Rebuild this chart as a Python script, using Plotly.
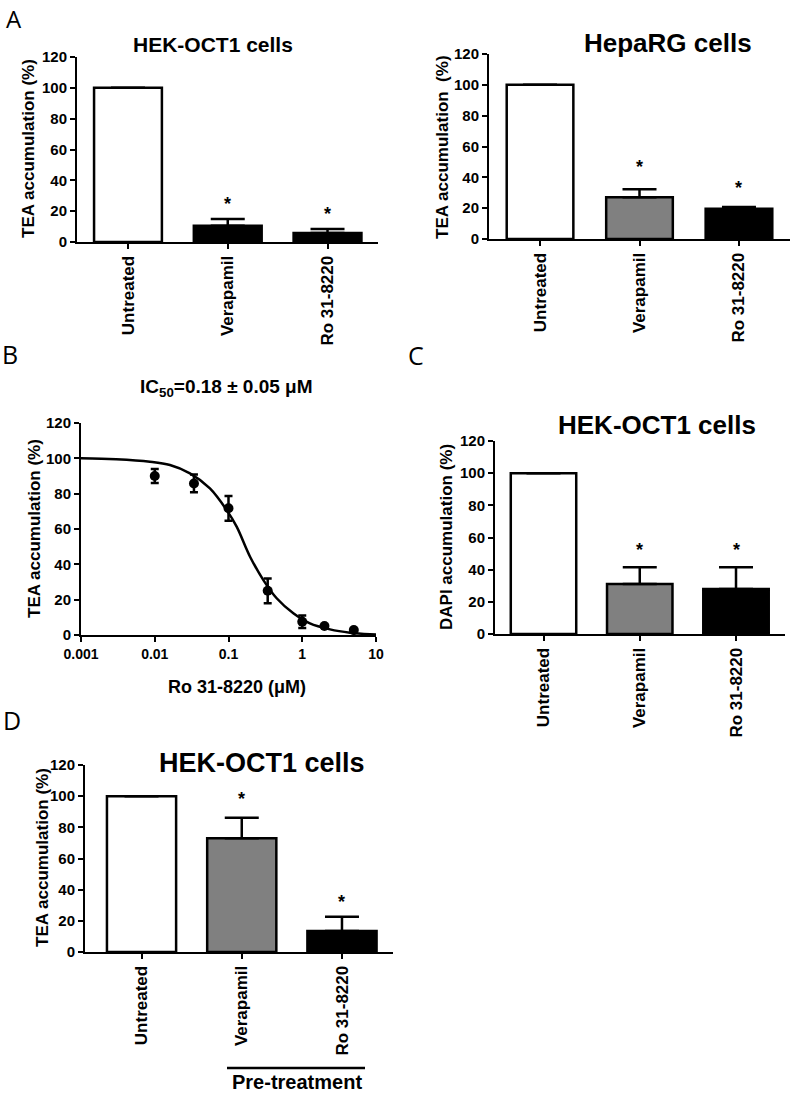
import plotly.graph_objects as go

W, H = 790, 1095

# ---------------- data ----------------
categories = ["Untreated", "Verapamil", "Ro 31-8220"]
y_ticks = [0, 20, 40, 60, 80, 100, 120]

a1_values = [100, 10.6, 5.8]
a1_err = [0, 4.3, 2.6]
a1_colors = ["white", "black", "black"]
a1_stars = [None, 27, 20.8]

a2_values = [100, 27, 19.7]
a2_err = [0, 5.2, 1.1]
a2_colors = ["white", "#808080", "black"]
a2_stars = [None, 49, 36]

b_conc = [0.01, 0.034, 0.1, 0.34, 1, 2, 5]
b_values = [90, 85.8, 71.7, 25, 7.5, 5.1, 2.8]
b_err = [4, 5, 7, 7, 3.6, 0, 0]
b_fit_x = [0.001, 0.003, 0.0086, 0.0161, 0.030, 0.056, 0.0946, 0.129, 0.196,
           0.297, 0.45, 0.757, 1.27, 2.38, 4.44, 8.3, 10]
b_fit_y = [100, 99.5, 98.1, 96.2, 91.5, 83, 70.7, 61.3, 44.3,
           31.1, 20.8, 12.3, 6.6, 3.2, 1.3, 0.4, 0.3]
b_xticks = [0.001, 0.01, 0.1, 1, 10]
b_xticklabels = ["0.001", "0.01", "0.1", "1", "10"]

c_values = [100, 31.1, 28]
c_err = [0, 10.4, 13.5]
c_colors = ["white", "#808080", "black"]
c_stars = [None, 55, 55]

d_values = [100, 73, 13.5]
d_err = [0, 13.2, 9.2]
d_colors = ["white", "#808080", "black"]
d_stars = [None, 100.7, 34.6]

FONT = "Liberation Sans, Arial, sans-serif"


def xd(x0, x1):
    return [x0 / W, x1 / W]


def yd(ybot, ytop):
    return [1 - ybot / H, 1 - ytop / H]


def px(x, y):
    return x / W, 1 - y / H


fig = go.Figure()

# ---------------- bar panels ----------------
bar_panels = [
    ("", a1_values, a1_err, a1_colors, a1_stars, 0.68, xd(77, 378), yd(242, 57), [-0.511, 2.506]),
    ("2", a2_values, a2_err, a2_colors, a2_stars, 0.67, xd(489, 790), yd(239, 54), [-0.513, 2.513]),
    ("4", c_values, c_err, c_colors, c_stars, 0.68, xd(495, 785), yd(634, 441), [-0.504, 2.509]),
    ("5", d_values, d_err, d_colors, d_stars, 0.69, xd(85, 393), yd(952, 765), [-0.564, 2.509]),
]

annotations = []

ytick_font = dict(family=FONT, size=15, color="black", weight="bold")

for suf, vals, errs, cols, stars, bw, xdom, ydom, xr in bar_panels:
    xa = "x" + suf
    ya = "y" + suf
    fig.add_trace(go.Bar(
        x=[0, 1, 2], y=vals, width=bw,
        marker=dict(color=cols, line=dict(color="black", width=2.5)),
        error_y=dict(type="data", symmetric=False, array=errs,
                     arrayminus=[0, 0, 0], color="black", thickness=2.5, width=17),
        xaxis=xa, yaxis=ya, showlegend=False, hoverinfo="skip",
    ))
    fig.layout["xaxis" + suf] = dict(
        domain=xdom, range=xr, anchor=ya,
        tickvals=[0, 1, 2], ticktext=categories, tickangle=-90,
        showline=True, linewidth=2, linecolor="black",
        ticks="outside", ticklen=5, tickwidth=2, tickcolor="black",
        tickfont=dict(family=FONT, size=17, color="black", weight="bold"),
        showgrid=False, zeroline=False, automargin=False,
    )
    fig.layout["yaxis" + suf] = dict(
        domain=ydom, range=[0, 120], anchor=xa,
        tickvals=y_ticks,
        showline=True, linewidth=2, linecolor="black",
        ticks="outside", ticklen=5, tickwidth=2, tickcolor="black",
        tickfont=ytick_font, showgrid=False, zeroline=False, automargin=False,
    )
    for i, s in enumerate(stars):
        if s is None:
            continue
        annotations.append(dict(
            x=i, y=s, xref=xa, yref=ya, text="*", showarrow=False,
            xanchor="center", yanchor="middle", yshift=-4,
            font=dict(family=FONT, size=18, color="black", weight="bold"),
        ))

# ---------------- panel B (dose-response) ----------------
fig.add_trace(go.Scatter(
    x=b_fit_x, y=b_fit_y, mode="lines", line=dict(color="black", width=2.5, shape="spline"),
    xaxis="x3", yaxis="y3", showlegend=False, hoverinfo="skip",
))
fig.add_trace(go.Scatter(
    x=b_conc, y=b_values, mode="markers",
    marker=dict(color="black", size=10),
    error_y=dict(type="data", array=b_err, color="black", thickness=2.5, width=4),
    xaxis="x3", yaxis="y3", showlegend=False, hoverinfo="skip",
))
fig.layout["xaxis3"] = dict(
    domain=xd(81, 376), type="log", range=[-3, 1], anchor="y3",
    tickvals=b_xticks, ticktext=b_xticklabels,
    showline=True, linewidth=2, linecolor="black",
    ticks="outside", ticklen=5, tickwidth=2, tickcolor="black",
    tickfont=dict(family=FONT, size=14, color="black", weight="bold"),
    showgrid=False, zeroline=False, automargin=False,
)
fig.layout["yaxis3"] = dict(
    domain=yd(635, 423), range=[0, 120], anchor="x3", tickvals=y_ticks,
    showline=True, linewidth=2, linecolor="black",
    ticks="outside", ticklen=5, tickwidth=2, tickcolor="black",
    tickfont=ytick_font, showgrid=False, zeroline=False, automargin=False,
)


# ---------------- text ----------------
def text(x, y, s, size, bold=True, angle=0, family=FONT, yanchor="middle"):
    ax, ay = px(x, y)
    annotations.append(dict(
        x=ax, y=ay, xref="paper", yref="paper", text=s, showarrow=False,
        xanchor="center", yanchor=yanchor, textangle=angle,
        font=dict(family=family, size=size, color="black",
                  weight="bold" if bold else "normal"),
    ))


LETTER_FONT = "Open Sans, sans-serif"
text(14, 0, "A", 24, bold=False, family=LETTER_FONT, yanchor="top")
text(10, 354, "B", 25, bold=False, family=LETTER_FONT)
text(416, 355, "C", 25, bold=False, family=LETTER_FONT)
text(12, 720, "D", 25, bold=False, family=LETTER_FONT)

text(213, 45, "HEK-OCT1 cells", 21)
text(668, 43, "HepaRG cells", 26)
text(657, 425, "HEK-OCT1 cells", 26)
text(262, 763, "HEK-OCT1 cells", 27)
text(227, 388, "IC<sub>50</sub>=0.18 ± 0.05 μM", 19)
text(237, 687, "Ro 31-8220 (μM)", 18)

text(29, 149, "TEA accumulation (%)", 17, angle=-90)
text(442, 147, "TEA accumulation  (%)", 17, angle=-90)
text(34, 529, "TEA accumulation (%)", 17, angle=-90)
text(446, 537, "DAPI accumulation (%)", 17, angle=-90)
text(42, 858, "TEA accumulation (%)", 17, angle=-90)

text(297, 1095, "Pre-treatment", 20, yanchor="bottom")
x0, y0 = px(227, 1068)
x1, _ = px(365, 1068)

fig.update_layout(
    width=W, height=H,
    margin=dict(l=0, r=0, t=0, b=0, pad=0, autoexpand=False),
    paper_bgcolor="white", plot_bgcolor="white",
    annotations=annotations,
    shapes=[dict(type="line", xref="paper", yref="paper", x0=x0, x1=x1, y0=y0, y1=y0,
                 line=dict(color="black", width=2.5))],
    barmode="overlay",
    showlegend=False,
)

fig.write_html("out.html", config={"displayModeBar": False},
               post_script="document.body.style.margin='0';")
